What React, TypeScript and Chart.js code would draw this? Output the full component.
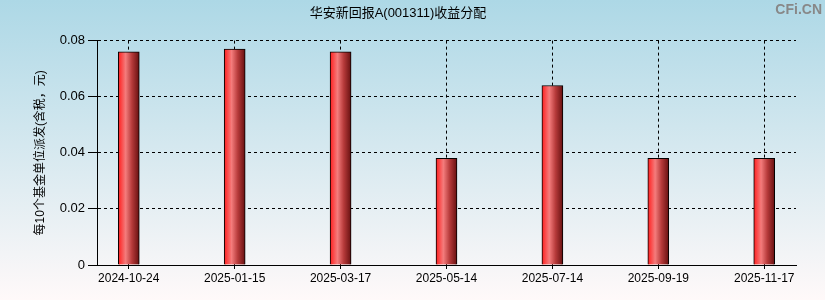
import React, { useEffect, useRef } from "react";
import { Chart, registerables } from "chart.js";

Chart.register(...registerables);

const categories: string[] = [
  "2024-10-24",
  "2025-01-15",
  "2025-03-17",
  "2025-05-14",
  "2025-07-14",
  "2025-09-19",
  "2025-11-17",
];
const values: number[] = [0.076, 0.077, 0.076, 0.038, 0.064, 0.038, 0.038];
const yTicks: number[] = [0, 0.02, 0.04, 0.06, 0.08];
const titleText = "华安新回报A(001311)收益分配";
const yTitle = "每10个基金单位派发(含税，元)";
const watermark = "CFi.CN";

const FONT = '"Liberation Sans", Arial, "Noto Sans CJK SC", sans-serif';

const bgPlugin = {
  id: "bgGradient",
  beforeDraw(chart: any) {
    const { ctx, width, height } = chart;
    ctx.save();
    const g = ctx.createLinearGradient(0, 0, 0, height);
    g.addColorStop(0, "#add8e6");
    g.addColorStop(1, "#fff9f9");
    ctx.fillStyle = g;
    ctx.fillRect(0, 0, width, height);
    ctx.restore();
  },
  afterDraw(chart: any) {
    const { ctx, width } = chart;
    ctx.save();
    ctx.font = 'bold 14px "Liberation Sans", sans-serif';
    ctx.fillStyle = "#888888";
    ctx.textAlign = "right";
    ctx.textBaseline = "middle";
    ctx.fillText(watermark, width - 3, 10);
    ctx.restore();
  },
};

export default function App() {
  const ref = useRef<HTMLCanvasElement | null>(null);

  useEffect(() => {
    document.body.style.margin = "0";
    const canvas = ref.current;
    if (!canvas) return;
    Chart.defaults.font.family = FONT;
    Chart.defaults.color = "#000";

    const chart = new Chart(canvas, {
      type: "bar",
      data: {
        datasets: [
          {
            data: values.map((v, i) => ({ x: i, y: v })),
            barThickness: 21,
            borderColor: "#000",
            borderWidth: 1,
            borderSkipped: "bottom",
            backgroundColor: (c: any) => {
              const ch = c.chart;
              const xs = ch.scales && ch.scales.x;
              if (!xs || c.dataIndex === undefined) return "#e03030";
              const cx = xs.getPixelForValue(c.dataIndex);
              if (!isFinite(cx)) return "#e03030";
              const g = ch.ctx.createLinearGradient(cx - 10.5, 0, cx + 10.5, 0);
              g.addColorStop(0, "#ff1e1e");
              g.addColorStop(0.35, "#f47c7c");
              g.addColorStop(0.65, "#b63a3a");
              g.addColorStop(1, "#661010");
              return g;
            },
          } as any,
        ],
      },
      options: {
        animation: false,
        responsive: false,
        layout: { padding: { left: 0, right: 29, top: 0, bottom: 0 } },
        plugins: {
          legend: { display: false },
          tooltip: { enabled: false },
          title: {
            display: true,
            text: titleText,
            color: "#000",
            font: { size: 13, weight: "normal" },
            padding: { top: 6, bottom: 19 },
          },
        },
        scales: {
          x: {
            type: "linear",
            offset: false,
            min: -0.3,
            max: 6.3,
            afterBuildTicks: (s: any) => {
              s.ticks = categories.map((_, i) => ({ value: i }));
            },
            afterFit: (s: any) => {
              s.height = 35;
            },
            ticks: {
              autoSkip: false,
              maxRotation: 0,
              padding: 2,
              font: { size: 12 },
              color: "#000",
              callback: (v: any) => categories[v] ?? "",
            },
            grid: {
              offset: false,
              color: "#000",
              lineWidth: 1,
              tickLength: 4,
              tickColor: "#000",
            },
            border: { display: true, color: "#000", width: 1, dash: [3, 3] },
          },
          y: {
            min: 0,
            max: 0.08,
            afterBuildTicks: (s: any) => {
              s.ticks = yTicks.map((v) => ({ value: v }));
            },
            afterFit: (s: any) => {
              s.width = 97;
            },
            ticks: {
              padding: 3,
              font: { size: 13 },
              color: "#000",
              callback: (v: any) => (v === 0 ? "0" : Number(v).toFixed(2)),
            },
            grid: {
              color: "#000",
              lineWidth: 1,
              tickLength: 9,
              tickColor: "#000",
            },
            border: { display: true, color: "#000", width: 1, dash: [3, 3] },
            title: {
              display: true,
              text: yTitle,
              color: "#000",
              font: { size: 12 },
              padding: { top: 33, bottom: 0 },
            },
          },
        },
      },
      plugins: [bgPlugin],
    } as any);

    return () => chart.destroy();
  }, []);

  return <canvas ref={ref} width={825} height={300} style={{ display: "block" }} />;
}
